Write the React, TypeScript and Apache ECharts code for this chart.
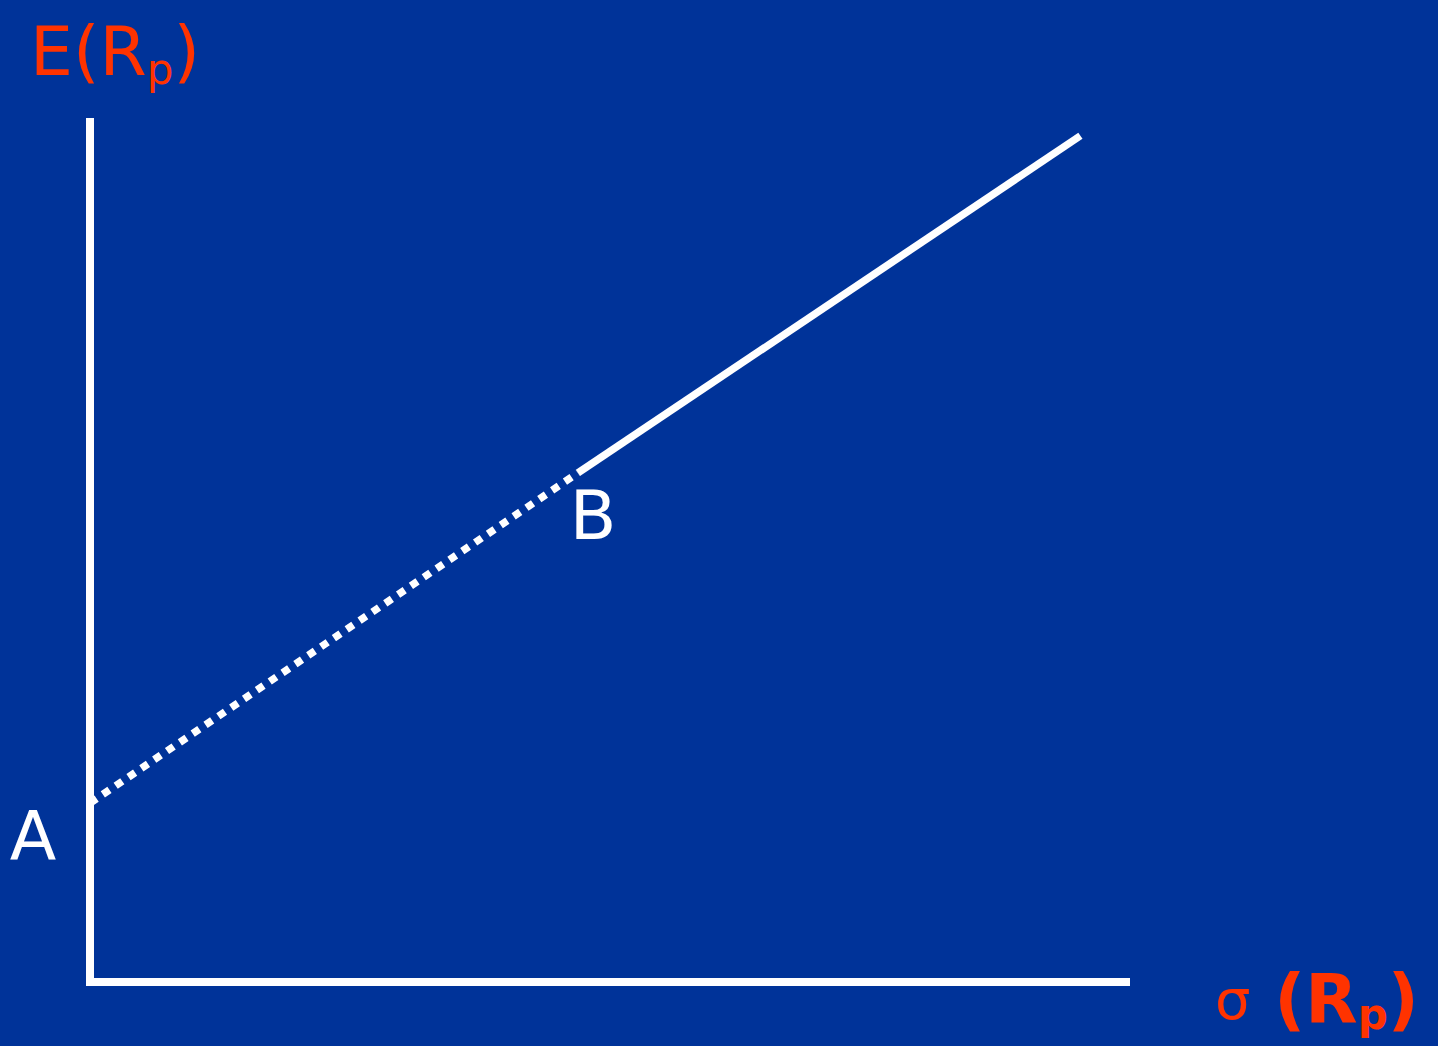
import React, { useEffect, useRef } from 'react';
import * as echarts from 'echarts';

// Capital allocation line: dotted segment from A (risk-free) to B, solid beyond B
const dottedX = [0, 47.1];
const dottedY = [20.8, 59.2];
const solidX = [47.1, 95.6];
const solidY = [59.2, 98.4];
const pointNames = ['A', 'B'];
const pointX = [0, 47.1];
const pointY = [20.8, 59.2];

const BG = '#003399';
const RED = '#FF3300';
const FONT = 'DejaVu Sans';

export default function App() {
  const ref = useRef<HTMLDivElement>(null);
  useEffect(() => {
    if (!ref.current) return;
    const chart = echarts.init(ref.current, null, { renderer: 'svg' });
    const labelOffsets = [[-57, 33], [15, 43]];
    const axisLine = { show: true, lineStyle: { color: '#fff', width: 8, cap: 'square' } };
    chart.setOption({
      animation: false,
      backgroundColor: BG,
      grid: { left: 90, right: 312, top: 122, bottom: 64 },
      xAxis: {
        type: 'value', min: 0, max: 100,
        axisLine, axisTick: { show: false }, axisLabel: { show: false }, splitLine: { show: false },
      },
      yAxis: {
        type: 'value', min: 0, max: 100,
        axisLine, axisTick: { show: false }, axisLabel: { show: false }, splitLine: { show: false },
      },
      series: [
        {
          type: 'line', symbol: 'none', silent: true, z: 3,
          data: dottedX.map((x, i) => [x, dottedY[i]]),
          lineStyle: { color: '#fff', width: 7.5, type: [8, 7.5], cap: 'butt' },
        },
        {
          type: 'line', symbol: 'none', silent: true, z: 3,
          data: solidX.map((x, i) => [x, solidY[i]]),
          lineStyle: { color: '#fff', width: 7.5, type: 'solid', cap: 'butt' },
        },
        {
          type: 'scatter', symbolSize: 1, silent: true, z: 4,
          itemStyle: { color: 'rgba(0,0,0,0)', opacity: 1 },
          data: pointNames.map((n, i) => ({
            name: n,
            value: [pointX[i], pointY[i]],
            label: {
              show: true, position: 'inside', offset: labelOffsets[i],
              formatter: '{b}', color: '#ffffff', opacity: 1, fontFamily: FONT, fontSize: 68,
            },
          })),
        },
      ],
      graphic: [
        {
          type: 'text', left: 30, top: 13,
          style: {
            text: '{n|E(R}{s|p}{n|)}',
            fill: RED,
            rich: {
              n: { fontFamily: FONT, fontSize: 68, fill: RED, color: RED, lineHeight: 80 },
              s: { fontFamily: FONT, fontSize: 42, fill: RED, color: RED, lineHeight: 80, padding: [35, 0, 0, 0] },
            },
          },
        },
        {
          type: 'text', left: 1215, top: 963,
          style: {
            text: '{g|σ }{b|(R}{s|p}{b|)}',
            fill: RED,
            rich: {
              g: { fontFamily: FONT, fontSize: 56, fill: RED, color: RED, lineHeight: 80, padding: [0, 6, 0, 0] },
              b: { fontFamily: FONT, fontSize: 68, fontWeight: 'bold', fill: RED, color: RED, lineHeight: 80 },
              s: { fontFamily: FONT, fontSize: 42, fontWeight: 'bold', fill: RED, color: RED, lineHeight: 80, padding: [30, 0, 0, 0] },
            },
          },
        },
      ],
    });
    return () => chart.dispose();
  }, []);
  return (
    <div
      ref={ref}
      style={{ position: 'fixed', left: 0, top: 0, width: 1438, height: 1046 }}
    />
  );
}
